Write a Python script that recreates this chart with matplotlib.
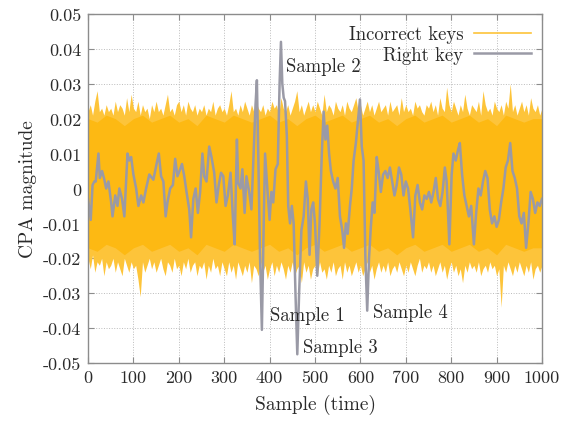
import numpy as np
import matplotlib
matplotlib.use("Agg")
import matplotlib.pyplot as plt

plt.rcParams['font.family'] = ['cmr10', 'DejaVu Serif']
plt.rcParams['axes.formatter.use_mathtext'] = True

# ---------------- data (values in units of 1e-3) ----------------
# Right key trace: (sample, value)
right_x = [0, 6, 10, 14, 17, 23, 26, 31, 36, 40, 45, 51, 54, 60, 65, 69, 75, 80, 84, 87,
           91, 95, 100, 106, 111, 117, 122, 128, 135, 141, 144, 151, 156, 161, 166, 171, 175, 181, 187, 192,
           197, 203, 207, 212, 217, 223, 227, 232, 237, 242, 247, 252, 256, 261, 267, 272, 278, 283, 288, 293,
           298, 303, 308, 314, 319, 323, 328, 331, 336, 340, 345, 349, 355, 360, 364, 369, 372, 375, 379, 383,
           387, 390, 395, 400, 404, 408, 413, 418, 422, 425, 428, 431, 434, 438, 441, 445, 449, 453, 457, 461,
           465, 470, 475, 480, 484, 488, 492, 496, 500, 505, 510, 515, 519, 523, 527, 531, 535, 540, 545, 550,
           555, 560, 564, 568, 572, 577, 581, 585, 590, 595, 599, 603, 607, 611, 615, 619, 623, 627, 631, 636,
           640, 645, 650, 655, 660, 665, 670, 675, 680, 685, 690, 695, 700, 705, 710, 716, 721, 726, 731, 736,
           741, 746, 751, 756, 761, 766, 771, 776, 781, 786, 790, 796, 801, 805, 810, 815, 819, 824, 829, 834,
           839, 844, 850, 855, 860, 865, 870, 875, 880, 885, 890, 895, 900, 905, 910, 915, 920, 925, 930, 935,
           940, 945, 950, 955, 960, 965, 970, 975, 980, 985, 990, 995, 1000]
right_y = [-3, -9, 1, 2, 2, 10, 3, 5, 2.5, 0, 2, -4, -8, -2, -5, 0, -3, -8, 2, 10,
           8, 9, 4, 0, -5, -2, -4, 0, 4, 3, 2.5, 7, 10, 3.5, 2, -8, -4, 0, 1, 8.5,
           3.5, 5.5, 7, 3.5, -1, -6, -14, -3, 0, -7, -1, 10, 3.5, 2, 12, 9, 4.5, -4, 1, 4.5,
           3.5, -5, -2, 4.5, -8, -16, 14, 1.5, 0, 5.5, -7, 3.5, -1, -6, 7, 24, 31, 10, -20, -40.5,
           -10, 10, 0, -9, -1, -4, 5.5, 7, 30, 42, 30, 26, 25, 15, -5, -10, -5, -10, -30, -47.5,
           -30, -12, -8, 2, -3, -19, -6, -4, -10, -25, -10, 10, 22, 14, 18, 10, 5, 2, 0, 3,
           -8, -12, -17, -10, -13, -5, 0, 8, 13, 20, 25.5, 12, 8, -20, -35, -20, -11, -4, -7, 9,
           5, -1, 4, 5, 3, 6, 2, -2, 1, 6, 4, -2, 2, 0, -6, -14, -2, 1, -4, -6,
           -2, -3, -1, -4, -1, 3, -3, -5, -1, 6, 2, -16, 4, 10, 8, 11, 13, 4, -2, -5,
           -8, -5, -16, -7, 0, -2, 2, 5, 3, -6, -10, -8, -11, -9, -4, 0, 6, 8, 13, 5,
           3, 0, -8, -10, -7, -17, -10, -1, -3, -7, -4, -5, -3]

# Incorrect keys: envelope of all wrong-key traces, every 5 samples
env_x = list(range(0, 1001, 5))
env_upper = [22, 24, 21, 25, 28, 22, 23, 21, 24, 22,
             23, 21, 25, 22, 24, 23, 21, 26, 22, 27,
             23, 22, 25, 21, 24, 22, 23, 20, 24, 22,
             25, 22, 23, 21, 24, 27, 22, 23, 21, 24,
             25, 22, 24, 21, 25, 23, 22, 24, 21, 23,
             22, 24, 21, 23, 22, 25, 21, 23, 24, 22,
             23, 21, 24, 28, 22, 23, 21, 24, 22, 25,
             23, 21, 24, 22, 25, 23, 22, 24, 21, 23,
             22, 25, 23, 24, 21, 26, 23, 22, 24, 21,
             23, 25, 28, 22, 24, 21, 23, 25, 22, 24,
             22, 25, 23, 21, 27, 22, 24, 23, 21, 25,
             23, 22, 24, 21, 25, 23, 22, 24, 26, 22,
             24, 21, 23, 25, 22, 24, 21, 23, 25, 22,
             23, 24, 21, 25, 22, 23, 24, 21, 26, 22,
             24, 22, 23, 21, 25, 23, 24, 22, 21, 24,
             23, 25, 22, 24, 21, 26, 23, 22, 29, 24,
             22, 25, 23, 21, 24, 22, 27, 23, 21, 24,
             23, 22, 25, 21, 28, 24, 22, 23, 21, 25,
             23, 22, 24, 21, 25, 23, 30, 22, 24, 21,
             23, 25, 22, 24, 21, 26, 23, 22, 24, 21,
             23]
env_lower = [-20, -23, -19, -24, -21, -22, -20, -25, -21, -23,
             -22, -20, -24, -21, -23, -25, -20, -22, -24, -21,
             -23, -22, -26, -31, -21, -24, -22, -20, -23, -21,
             -24, -22, -20, -23, -25, -21, -22, -24, -20, -23,
             -22, -25, -21, -23, -20, -24, -22, -21, -25, -22,
             -23, -21, -26, -22, -24, -20, -23, -22, -25, -21,
             -23, -25, -21, -24, -22, -26, -21, -23, -25, -22,
             -24, -21, -27, -22, -23, -25, -21, -24, -22, -26,
             -23, -21, -25, -22, -24, -21, -23, -26, -22, -24,
             -21, -25, -23, -22, -27, -21, -24, -22, -26, -23,
             -22, -25, -21, -24, -23, -26, -22, -24, -21, -25,
             -23, -22, -26, -21, -24, -22, -25, -23, -21, -24,
             -22, -25, -23, -21, -24, -22, -26, -23, -21, -24,
             -22, -24, -21, -25, -23, -22, -24, -21, -23, -25,
             -22, -24, -21, -23, -25, -22, -20, -24, -22, -23,
             -21, -24, -22, -25, -23, -21, -24, -22, -26, -23,
             -21, -24, -22, -25, -23, -27, -22, -24, -21, -23,
             -22, -24, -21, -25, -23, -22, -24, -21, -23, -22,
             -25, -23, -34, -22, -24, -21, -23, -25, -22, -24,
             -21, -23, -25, -22, -24, -21, -26, -23, -22, -24,
             -22]
# dense core of the wrong-key traces, every 20 samples
core_x = list(range(0, 1001, 20))
core_upper = [20, 19, 21, 20, 18, 20, 21, 19, 20, 21, 19, 20, 18, 21, 20, 19, 21, 20, 19, 20,
              21, 19, 20, 18, 20, 21, 19, 20, 21, 19, 20, 21, 19, 20, 18, 20, 21, 19, 20, 21,
              19, 20, 21, 19, 20, 18, 21, 20, 19, 20, 20]
core_lower = [-17, -18, -16, -17, -19, -17, -16, -18, -17, -16, -18, -17, -19, -16, -17, -18, -16, -17, -18, -17,
              -16, -18, -17, -19, -17, -16, -18, -17, -16, -18, -17, -16, -18, -17, -19, -17, -16, -18, -17, -16,
              -18, -17, -16, -18, -17, -19, -16, -17, -18, -17, -17]

annotations = [("Sample 1", 401, -36.2), ("Sample 2", 436, 35.0),
               ("Sample 3", 474, -45.4), ("Sample 4", 628, -35.3)]

x_ticks = list(range(0, 1001, 100))
y_ticks = [0.05, 0.04, 0.03, 0.02, 0.01, 0, -0.01, -0.02, -0.03, -0.04, -0.05]
y_tick_labels = ["0.05", "0.04", "0.03", "0.02", "0.01", "0", "-0.01", "-0.02", "-0.03", "-0.04", "-0.05"]

# ---------------- plot ----------------
orange = "#FDB913"
orange_light = "#FDC43A"
gray = "#9A9AA6"
axcol = "#8C8C8C"
txtcol = "#2A2A2A"

fig = plt.figure(figsize=(5.62, 4.27), dpi=100)
ax = fig.add_axes([0.1566, 0.1475, 0.8078, 0.8176])

s = 1e-3
ax.fill_between(env_x, np.array(env_lower) * s, np.array(env_upper) * s,
                color=orange_light, lw=0, zorder=2)
ax.fill_between(core_x, np.array(core_lower) * s, np.array(core_upper) * s,
                color=orange, lw=0, zorder=3)
ax.plot([], [], color=orange_light, lw=1.2, label="Incorrect keys")
ax.plot(right_x, np.array(right_y) * s, color=gray, lw=1.8, zorder=4, label="Right key")

for txt, xx, yy in annotations:
    ax.text(xx, yy * s, txt, fontsize=13.5, ha="left", va="center", color=txtcol, zorder=5)

ax.set_xlim(0, 1000)
ax.set_ylim(-0.05, 0.05)
ax.set_xticks(x_ticks)
ax.set_xticklabels([str(v) for v in x_ticks])
ax.set_yticks(y_ticks)
ax.set_yticklabels(y_tick_labels)
ax.tick_params(direction="in", length=4, width=0.8, colors=axcol, labelcolor=txtcol,
               labelsize=13, top=True, right=True, pad=5)
ax.grid(True, color="#BBBBBB", linestyle=":", linewidth=0.7, zorder=0)
ax.set_axisbelow(True)
for sp in ax.spines.values():
    sp.set_color(axcol)
    sp.set_linewidth(1.0)
    sp.set_zorder(6)

ax.set_xlabel("Sample (time)", fontsize=14, color=txtcol, labelpad=6)
ax.set_ylabel("CPA magnitude", fontsize=14, color=txtcol, labelpad=4)

leg = ax.legend(loc="upper right", frameon=False, markerfirst=False, fontsize=13.5,
                handlelength=3.0, borderaxespad=0.2, labelspacing=0.15, handletextpad=0.6)
for t in leg.get_texts():
    t.set_color(txtcol)

fig.savefig("out.png", dpi=100)
